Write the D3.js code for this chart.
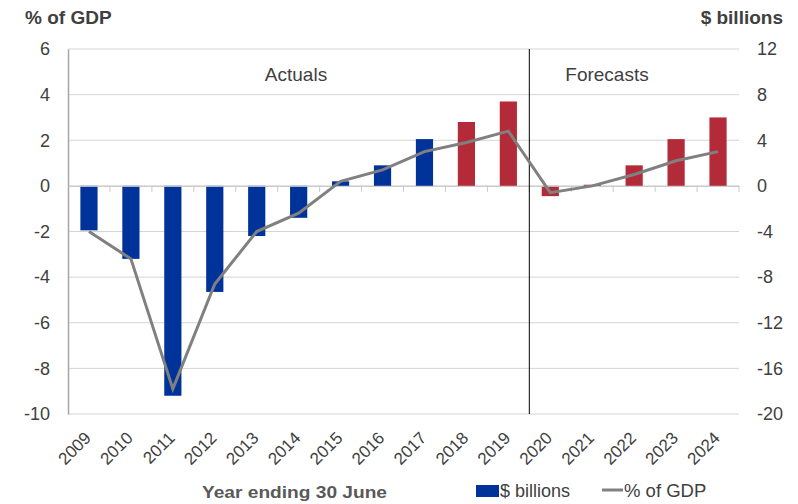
<!DOCTYPE html>
<html lang="en">
<head>
<meta charset="UTF-8">
<title>Budget balance</title>
<script src="https://cdn.jsdelivr.net/npm/d3@7"></script>
<style>
body { margin: 0; background: #fff; }
svg text { font-family: "Liberation Sans", Arial, sans-serif; }
</style>
</head>
<body>
<svg width="798" height="504"></svg>
<script>
var years = ["2009","2010","2011","2012","2013","2014","2015","2016","2017","2018","2019","2020","2021","2022","2023","2024"];
var billions = [-3.9, -6.4, -18.4, -9.3, -4.4, -2.8, 0.4, 1.8, 4.1, 5.6, 7.4, -0.9, 0.1, 1.8, 4.1, 6.0];
var pctGdp = [-2.0, -3.2, -8.9, -4.3, -2.0, -1.2, 0.2, 0.7, 1.5, 1.9, 2.4, -0.3, 0.0, 0.5, 1.1, 1.5];
var leftTicks = [-10, -8, -6, -4, -2, 0, 2, 4, 6];
var rightTicks = [-20, -16, -12, -8, -4, 0, 4, 8, 12];
var firstRed = "2018";
var firstForecast = "2020";

var svg = d3.select("svg"),
	margin = {top: 49, right: 59, bottom: 90, left: 68},
	width = 798 - margin.left - margin.right,
	height = 504 - margin.top - margin.bottom;

var g = svg.append("g").attr("transform", "translate(" + margin.left + "," + margin.top + ")");

var x = d3.scaleBand().domain(years).range([0, width]);
var yL = d3.scaleLinear().domain([-10, 6]).range([height, 0]);
var yR = d3.scaleLinear().domain([-20, 12]).range([height, 0]);
var plain = function(d) { return String(d); };

// gridlines
g.selectAll(".grid").data(leftTicks).enter().append("line")
	.attr("x1", 0).attr("x2", width)
	.attr("y1", function(d) { return yL(d); })
	.attr("y2", function(d) { return yL(d); })
	.attr("stroke", "#d4d4d4").attr("stroke-width", 1);

// left axis
var axL = g.append("g").call(d3.axisLeft(yL).tickValues(leftTicks).tickFormat(plain).tickSize(0).tickPadding(18));
axL.select(".domain").attr("stroke", "#a6a6a6").attr("stroke-width", 1.5);
axL.selectAll("text").attr("fill", "#404040").style("font-size", "18px");

// right axis
var axR = g.append("g").attr("transform", "translate(" + width + ",0)")
	.call(d3.axisRight(yR).tickValues(rightTicks).tickFormat(plain).tickSize(0).tickPadding(18));
axR.select(".domain").remove();
axR.selectAll("text").attr("fill", "#404040").style("font-size", "18px");

// bars
var bw = x.bandwidth() * 0.41;
g.selectAll(".bar").data(years).enter().append("rect")
	.attr("x", function(d) { return x(d) + (x.bandwidth() - bw) / 2; })
	.attr("width", bw)
	.attr("y", function(d, i) { return yR(Math.max(0, billions[i])); })
	.attr("height", function(d, i) { return Math.abs(yR(billions[i]) - yR(0)); })
	.attr("fill", function(d) { return +d >= +firstRed ? "#b32b38" : "#003399"; });

// zero axis with band ticks
var ax0 = g.append("g").attr("transform", "translate(0," + yL(0) + ")")
	.call(d3.axisBottom(x).tickSize(0).tickFormat(""));
ax0.select(".domain").attr("stroke", "#c8c8c8");
g.selectAll(".btick").data(d3.range(1, years.length + 1)).enter().append("line")
	.attr("x1", function(i) { return x.step() * i; })
	.attr("x2", function(i) { return x.step() * i; })
	.attr("y1", yL(0)).attr("y2", yL(0) + 6)
	.attr("stroke", "#c8c8c8");

// divider
var xd = x(firstForecast);
g.append("line").attr("x1", xd).attr("x2", xd).attr("y1", 0).attr("y2", height)
	.attr("stroke", "#000").attr("stroke-width", 1);

// line
var line = d3.line()
	.x(function(d, i) { return x(years[i]) + x.bandwidth() / 2; })
	.y(function(d) { return yL(d); });
g.append("path").datum(pctGdp)
	.attr("d", line)
	.attr("fill", "none")
	.attr("stroke", "#808080")
	.attr("stroke-width", 3);

// section labels
g.append("text").attr("x", 228).attr("y", 32)
	.attr("text-anchor", "middle").attr("fill", "#404040").style("font-size", "19px").text("Actuals");
g.append("text").attr("x", 539).attr("y", 32)
	.attr("text-anchor", "middle").attr("fill", "#404040").style("font-size", "19px").text("Forecasts");

// x labels
g.selectAll(".xl").data(years).enter().append("text")
	.attr("transform", function(d) { return "translate(" + (x(d) + x.bandwidth() / 2 + 3) + "," + (height + 25) + ") rotate(-45)"; })
	.attr("text-anchor", "end")
	.attr("fill", "#404040")
	.style("font-size", "17px")
	.text(function(d) { return d; });

// axis titles
svg.append("text").attr("x", 25).attr("y", 24).attr("fill", "#404040")
	.style("font-size", "19px").style("font-weight", "bold").text("% of GDP");
svg.append("text").attr("x", 783).attr("y", 24).attr("text-anchor", "end").attr("fill", "#404040")
	.style("font-size", "19px").style("font-weight", "bold").text("$ billions");

// bottom title and legend
svg.append("text").attr("x", 202).attr("y", 498)
	.attr("textLength", 185).attr("lengthAdjust", "spacingAndGlyphs")
	.attr("fill", "#595959").style("font-size", "17px").style("font-weight", "bold").text("Year ending 30 June");
svg.append("rect").attr("x", 476).attr("y", 485).attr("width", 23).attr("height", 12).attr("fill", "#003399");
svg.append("text").attr("x", 500).attr("y", 497).attr("fill", "#404040")
	.style("font-size", "18px").text("$ billions");
svg.append("line").attr("x1", 602).attr("x2", 623).attr("y1", 490).attr("y2", 490)
	.attr("stroke", "#808080").attr("stroke-width", 3);
svg.append("text").attr("x", 624).attr("y", 497).attr("fill", "#404040")
	.style("font-size", "18.5px").text("% of GDP");
</script>
</body>
</html>
